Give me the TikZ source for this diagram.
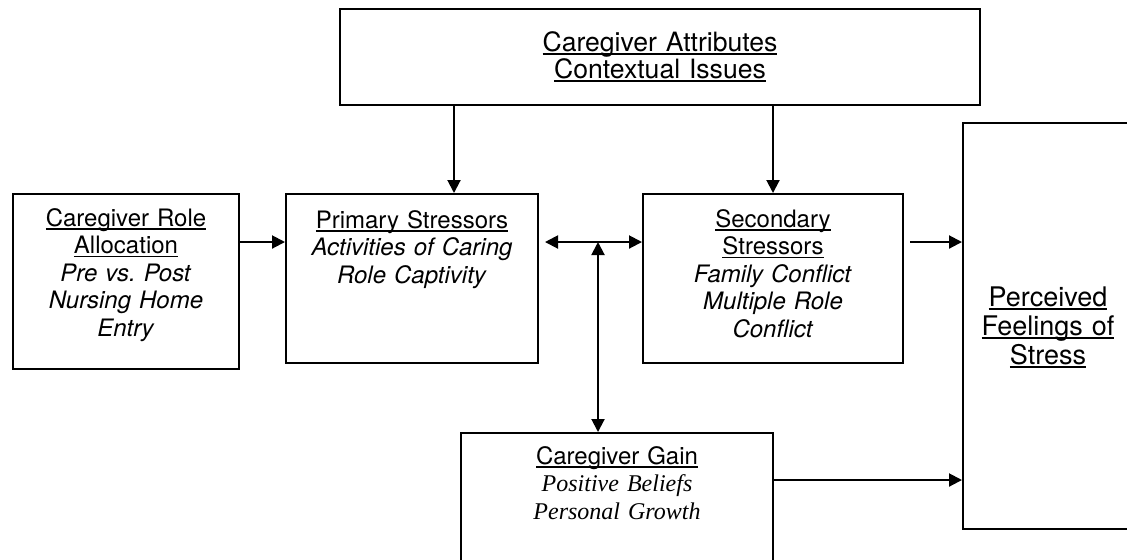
\documentclass[tikz,border=0pt]{standalone}
\usepackage{fontspec}
\setmainfont{TeX Gyre Heros}
\newfontfamily\gainfont{Liberation Serif}
\usepackage{tikz}
\usetikzlibrary{arrows.meta,positioning,calc}
\newcommand{\hd}[1]{\leavevmode\setbox0\hbox{#1}\rlap{\rule[-1.9pt]{\wd0}{0.9pt}}\box0}

\begin{document}
\begin{tikzpicture}[x=0.5pt, y=-0.5pt, line width=1pt,
  every node/.style={font=\fontsize{12}{13.75}\selectfont},
  box/.style={draw, inner sep=0pt, align=center, anchor=north west},
  arr/.style={-{Triangle[length=6.5pt,width=6.5pt]}},
  darr/.style={{Triangle[length=6.5pt,width=6.5pt]}-{Triangle[length=6.5pt,width=6.5pt]}}]
\clip (0,0) rectangle (1127,559);

\node[box, font=\fontsize{13.3}{13.5}\selectfont, text width=320pt, text height=21pt, text depth=27pt] (attr) at (339,8) {\hd{Caregiver Attributes}\\ \hd{Contextual Issues}};
\node[box, text width=113pt, text height=16pt, text depth=71.5pt] (role) at (12,193) {\hd{Caregiver Role}\\ \hd{Allocation}\\ \textit{Pre vs.\ Post}\\ \textit{Nursing Home}\\ \textit{Entry}};
\node[box, text width=126pt, text height=17pt, text depth=67.5pt] (primary) at (285,193) {\hd{Primary Stressors}\\ \textit{Activities of Caring}\\ \textit{Role Captivity}};
\node[box, text width=130pt, text height=16.5pt, text depth=68pt] (secondary) at (642,193) {\hd{Secondary}\\ \hd{Stressors}\\ \textit{Family Conflict}\\ \textit{Multiple Role}\\ \textit{Conflict}};
\node[box, text width=156pt, text height=15.5pt, text depth=68.5pt] (gain) at (460,432) {\hd{Caregiver Gain}\\ {\gainfont\itshape Positive Beliefs}\\ {\gainfont\itshape Personal Growth}};
\node[box, font=\fontsize{13.5}{14.5}\selectfont, text width=85pt, text height=91.5pt, text depth=111.5pt] (stress) at (962,122) {\hd{Perceived}\\ \hd{Feelings of}\\ \hd{Stress}};

% links
\coordinate (jct) at (598,242);
\coordinate (pin) at ($(primary.north)+(21pt,0)$);
\coordinate (gout) at ($(gain.north east)+(0,-24pt)$);

\draw[arr] (attr.south -| pin) -- (pin);
\draw[arr] (attr.south -| secondary.north) -- (secondary.north);
\draw[arr] (role.east |- jct) -- (primary.west |- jct);
\draw[darr] ($(primary.east |- jct)+(3pt,0)$) -- (secondary.west |- jct);
\draw[darr] (gain.north -| jct) -- (jct);
\draw[arr] ($(secondary.east |- jct)+(3pt,0)$) -- (stress.west |- jct);
\draw[arr] (gout) -- (gout -| stress.west);
\end{tikzpicture}
\end{document}
